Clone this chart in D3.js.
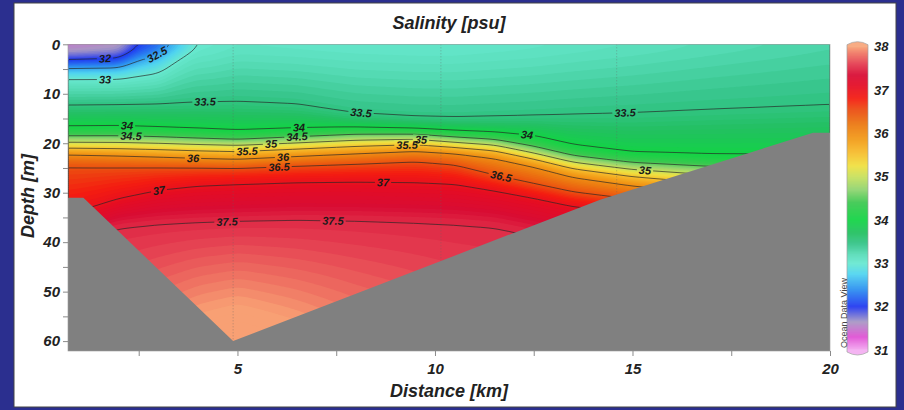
<!DOCTYPE html>
<html>
<head>
<meta charset="utf-8">
<script src="https://cdn.jsdelivr.net/npm/d3@7"></script>
<style>
body{margin:0;background:#2b2f8f;}
svg{display:block;}
text{font-family:"Liberation Sans",Arial,sans-serif;font-weight:bold;font-style:italic;fill:#222;}
.tick text{font-size:15px;}
.cbar text{font-size:13px;}
.clabel{font-size:11px;fill:#1a1a1a;}
.odv{font-size:9px;font-weight:normal;font-style:normal;fill:#444;}
</style>
</head>
<body>
<svg id="chart" width="904" height="410"></svg>
<script>
//data: depth [m] of each salinity isoline at each station [km]
var stationKm = [0.71, 2, 3, 4, 5, 6.5, 8, 9.5, 10.5, 11.5, 12.5, 13.5, 15, 17, 20];
var isoLevels = [32, 32.5, 33, 33.5, 34, 34.5, 35, 35.5, 36, 36.5, 37, 37.5];
var isoDepth = [
    [3.4, 3.1, -2.5, -6, -10, -10, -10, -10, -10, -10, -10, -10, -10, -10, -10],
    [4.8, 4.7, 2.0, -3.5, -8, -10, -10, -10, -10, -10, -10, -10, -10, -10, -10],
    [6.6, 6.6, 5.6, -0.2, -8, -10, -10, -10, -10, -10, -10, -10, -10, -10, -10],
    [12.4, 12.3, 12.2, 12.0, 11.9, 12.5, 14.7, 15.5, 15.6, 15.3, 15.0, 14.6, 14.2, 13.5, 12.6],
    [16.9, 16.8, 17.1, 17.4, 17.8, 17.4, 16.9, 17.1, 17.5, 18.0, 18.6, 20.7, 22.4, 22.8, 23.0],
    [18.7, 18.7, 18.9, 19.3, 19.6, 18.9, 18.4, 18.5, 19.0, 19.4, 21.0, 22.8, 24.0, 24.8, 25.0],
    [20.0, 20.0, 20.1, 20.2, 20.3, 19.9, 19.3, 19.0, 19.9, 20.4, 22.0, 23.8, 25.3, 26.4, 26.8],
    [20.7, 20.8, 21.0, 21.3, 21.4, 21.0, 20.5, 20.1, 20.6, 21.35, 23.1, 25.0, 26.6, 28.0, 28.5],
    [22.2, 22.5, 22.8, 23.1, 23.4, 22.6, 22.0, 21.5, 21.8, 22.6, 24.3, 26.6, 28.4, 30.0, 30.5],
    [24.2, 24.4, 24.5, 24.6, 24.7, 24.4, 24.0, 23.4, 24.2, 26.6, 28.4, 30.0, 31.5, 32.5, 33.0],
    [34.8, 31.3, 29.4, 28.4, 28.0, 27.6, 27.5, 27.7, 28.0, 29.2, 30.6, 32.3, 33.5, 35.0, 36.0],
    [39.5, 36.5, 35.9, 35.6, 35.4, 35.1, 35.2, 35.5, 35.8, 36.3, 37.9, 39.5, 41.0, 42.0, 43.0]
];
var surfaceSal = [31.4, 31.5, 32.15, 32.98, 33.08, 33.06, 33.04, 33.03, 33.03, 33.05, 33.07, 33.1, 33.14, 33.2, 33.28];
var bottomSal = [37.75, 37.9, 38.05, 38.2, 38.28, 38.15, 38.0, 37.88, 37.8, 37.75, 37.7, 37.7, 37.7, 37.7, 37.7];
var bottomDepth = 62;

//bathymetry
var bathyKm = [0.71, 1.1, 4.89, 14.18, 19.57, 20.0];
var bathyDepth = [31, 31, 60, 31.4, 17.9, 17.9];

//sample casts (dotted)
var castKm = [4.89, 10.15, 14.6];

//isoline labels
var labelKm = [1.65, 2.96, 1.65, 4.18, 8.15, 14.8, 2.2, 6.58, 12.35, 2.28, 6.5, 5.87, 9.67, 15.3, 5.24, 9.29, 3.85, 6.15, 6.03, 11.65, 2.99, 8.68, 4.76, 7.42];
var labelLevel = [32, 32.5, 33, 33.5, 33.5, 33.5, 34, 34, 34, 34.5, 34.5, 35, 35, 35, 35.5, 35.5, 36, 36, 36.5, 36.5, 37, 37, 37.5, 37.5];

//ticks
var xTicks = [5, 10, 15, 20];
var xMinor = [2.5, 7.5, 12.5, 17.5];
var yTicks = [0, 10, 20, 30, 40, 50, 60];
var yMinor = [5, 15, 25, 35, 45, 55];
var barTicks = [31, 32, 33, 34, 35, 36, 37, 38];

//palette
var colorStops = [31.0, 31.3, 31.65, 32.0, 32.4, 32.75, 33.0, 33.2, 33.45, 33.7, 34.0, 34.4, 34.7, 35.0, 35.25, 35.55, 35.85, 36.2, 36.55, 36.8, 37.1, 37.35, 37.6, 37.85, 38.0];
var colorHex = ['#f2a8f0', '#e050d4', '#a898c4', '#2038f0', '#2c90f0', '#50d4f0', '#68e8d0', '#58dcb8', '#34c488', '#22c060',
    '#12d444', '#3cc850', '#90d470', '#c8e05c', '#f0e040', '#f6bc2c', '#f29c18', '#ec7810', '#ec4a10', '#f41c10',
    '#e40c24', '#d80c34', '#e43c50', '#f07864', '#f8a074'];
//end data

var svg = d3.select('#chart');
var x = d3.scaleLinear().domain([0.71, 20.0]).range([68, 830]);
var y = d3.scaleLinear().domain([0, 62]).range([44.3, 351]);
var color = d3.scaleLinear().domain(colorStops).range(colorHex).clamp(true);

//white panel
svg.append('rect')
    .attr('x', 14).attr('y', 3).attr('width', 882).attr('height', 404)
    .attr('fill', '#fff').attr('stroke', '#444').attr('stroke-width', 1);

var defs = svg.append('defs');
var px0 = x.range()[0], px1 = x.range()[1], py0 = y.range()[0], py1 = y.range()[1];
defs.append('clipPath').attr('id', 'plotClip').append('rect')
    .attr('x', px0).attr('y', py0).attr('width', px1 - px0).attr('height', py1 - py0);
defs.append('clipPath').attr('id', 'lineClip').append('rect')
    .attr('x', px0 + 0.7).attr('y', py0 + 0.7).attr('width', px1 - px0 - 1.4).attr('height', py1 - py0 - 1.4);

//interpolate a station array at distance d
function atKm(arr, d){
    if(d <= stationKm[0]) return arr[0];
    for(var k = 1; k < stationKm.length; k++){
        if(d <= stationKm[k]){
            var t = (d - stationKm[k-1]) / (stationKm[k] - stationKm[k-1]);
            return arr[k-1] + t * (arr[k] - arr[k-1]);
        }
    }
    return arr[arr.length - 1];
}

function profileAt(d){
    var pts = [], lo = -Infinity;
    isoLevels.forEach(function(lv, li){
        var dep = atKm(isoDepth[li], d);
        if(dep <= 0){ lo = lv; }
        else { pts.push([dep, lv]); }
    });
    pts.sort(function(a, b){ return a[0] - b[0]; });
    var hi = pts.length ? pts[0][1] : 40;
    var s0 = Math.max(lo, Math.min(hi - 0.02, atKm(surfaceSal, d)));
    pts.unshift([0, s0]);
    var last = pts[pts.length - 1][1];
    pts.push([bottomDepth, Math.max(last + 0.05, atKm(bottomSal, d))]);
    return pts;
}

function evalProfile(pts, z){
    if(z <= pts[0][0]) return pts[0][1];
    for(var k = 1; k < pts.length; k++){
        if(z <= pts[k][0]){
            var t = (z - pts[k-1][0]) / (pts[k][0] - pts[k-1][0]);
            return pts[k-1][1] + t * (pts[k][1] - pts[k-1][1]);
        }
    }
    return pts[pts.length - 1][1];
}

//grid
var cell = 2;
var nx = Math.round((px1 - px0) / cell);
var ny = Math.ceil((py1 - py0) / cell);
var grid = new Array(nx * ny);
for(var i = 0; i < nx; i++){
    var prof = profileAt(x.invert(px0 + (i + 0.5) * cell));
    for(var j = 0; j < ny; j++){
        grid[j * nx + i] = evalProfile(prof, y.invert(py0 + (j + 0.5) * cell));
    }
}

function boxBlur(v, w, h, r){
    var tmp = new Array(w * h), out = new Array(w * h), n = 2 * r + 1;
    for(var j = 0; j < h; j++){
        for(var i = 0; i < w; i++){
            var s = 0;
            for(var k = -r; k <= r; k++){ s += v[j * w + Math.min(w - 1, Math.max(0, i + k))]; }
            tmp[j * w + i] = s / n;
        }
    }
    for(var j2 = 0; j2 < h; j2++){
        for(var i2 = 0; i2 < w; i2++){
            var s2 = 0;
            for(var k2 = -r; k2 <= r; k2++){ s2 += tmp[Math.min(h - 1, Math.max(0, j2 + k2)) * w + i2]; }
            out[j2 * w + i2] = s2 / n;
        }
    }
    return out;
}
grid = boxBlur(boxBlur(grid, nx, ny, 3), nx, ny, 3);

var gridPath = d3.geoPath(d3.geoIdentity().scale(cell).translate([px0, py0]));

//filled field
var step = 0.05;
var fillLevels = d3.range(31, 38.3, step);
var gField = svg.append('g').attr('clip-path', 'url(#plotClip)');
gField.selectAll('path')
    .data(d3.contours().size([nx, ny]).thresholds(fillLevels)(grid))
    .enter().append('path')
    .attr('d', gridPath)
    .attr('fill', function(d){ return color(d.value + step / 2); });

//casts
gField.selectAll('line.cast')
    .data(castKm)
    .enter().append('line')
    .attr('class', 'cast')
    .attr('x1', function(d){ return x(d); }).attr('x2', function(d){ return x(d); })
    .attr('y1', py0).attr('y2', py1)
    .attr('stroke', '#666').attr('stroke-opacity', 0.45)
    .attr('stroke-width', 1).attr('stroke-dasharray', '1,2');

//find depth (pixel y) where column crosses level
function crossY(col, level){
    col = Math.max(0, Math.min(nx - 1, col));
    for(var j = 0; j < ny - 1; j++){
        var a = grid[j * nx + col], b = grid[(j + 1) * nx + col];
        if(a < level && b >= level){
            return py0 + (j + 0.5 + (level - a) / (b - a)) * cell;
        }
    }
    return null;
}

var mask = defs.append('mask').attr('id', 'gapMask')
    .attr('maskUnits', 'userSpaceOnUse')
    .attr('x', 0).attr('y', 0).attr('width', 904).attr('height', 410);
mask.append('rect').attr('width', 904).attr('height', 410).attr('fill', '#fff');

//isolines
var gLines = svg.append('g').attr('mask', 'url(#gapMask)')
    .append('g').attr('clip-path', 'url(#lineClip)');
gLines.selectAll('path')
    .data(d3.contours().size([nx, ny]).thresholds(isoLevels)(grid))
    .enter().append('path')
    .attr('d', gridPath)
    .attr('fill', 'none')
    .attr('stroke', '#262626')
    .attr('stroke-opacity', 0.85)
    .attr('stroke-width', 0.8);

//isoline labels
var gLabels = svg.append('g').attr('clip-path', 'url(#plotClip)');
labelKm.forEach(function(km, k){
    var level = labelLevel[k];
    var col = Math.round((x(km) - px0) / cell - 0.5);
    var cy = crossY(col, level);
    if(cy === null) return;
    var cx = px0 + (col + 0.5) * cell;
    var off = 5;
    var yl = crossY(col - off, level), yr = crossY(col + off, level);
    var ang = 0;
    if(yl !== null && yr !== null) ang = Math.atan2(yr - yl, 2 * off * cell);
    else if(yr !== null) ang = Math.atan2(yr - cy, off * cell);
    else if(yl !== null) ang = Math.atan2(cy - yl, off * cell);
    var deg = ang * 180 / Math.PI;
    var t = gLabels.append('text')
        .attr('class', 'clabel')
        .attr('text-anchor', 'middle')
        .attr('dy', '0.35em')
        .attr('transform', 'translate(' + cx + ',' + cy + ') rotate(' + deg + ')')
        .text(String(level));
    var w = t.node().getComputedTextLength() + 4;
    mask.append('rect')
        .attr('x', -w / 2).attr('y', -5).attr('width', w).attr('height', 10)
        .attr('fill', '#000')
        .attr('transform', 'translate(' + cx + ',' + cy + ') rotate(' + deg + ')');
});

//bathymetry
var bathyPts = bathyKm.map(function(d, k){ return [x(d), y(bathyDepth[k])]; });
bathyPts.push([x(20.0) + 2, y(bathyDepth[bathyDepth.length - 1])]);
bathyPts.push([x(20.0) + 2, py1 + 2]);
bathyPts.push([px0 - 2, py1 + 2]);
bathyPts.unshift([px0 - 2, y(bathyDepth[0])]);
svg.append('path')
    .attr('clip-path', 'url(#plotClip)')
    .attr('d', d3.line()(bathyPts) + 'Z')
    .attr('fill', '#808080');

//plot frame
svg.append('rect')
    .attr('x', px0).attr('y', py0).attr('width', px1 - px0).attr('height', py1 - py0)
    .attr('fill', 'none').attr('stroke', '#9a9a9a').attr('stroke-width', 0.6);

//axes
function styleAxis(g){
    g.attr('font-size', null).attr('font-family', null);
    g.select('.domain').remove();
    g.selectAll('line').attr('stroke', '#8a8a8a');
}
svg.append('g').attr('transform', 'translate(0,' + py1 + ')')
    .call(d3.axisBottom(x).tickValues(xTicks).tickSize(5).tickPadding(7).tickFormat(d3.format('d')))
    .call(styleAxis);
svg.append('g').attr('transform', 'translate(0,' + py1 + ')')
    .call(d3.axisBottom(x).tickValues(xMinor).tickSize(5).tickFormat(''))
    .call(styleAxis);
svg.append('g').attr('transform', 'translate(' + px0 + ',0)')
    .call(d3.axisLeft(y).tickValues(yTicks).tickSize(5).tickPadding(3).tickFormat(d3.format('d')))
    .call(styleAxis);
svg.append('g').attr('transform', 'translate(' + px0 + ',0)')
    .call(d3.axisLeft(y).tickValues(yMinor).tickSize(5).tickFormat(''))
    .call(styleAxis);

//titles
svg.append('text').attr('x', 449).attr('y', 29).attr('text-anchor', 'middle')
    .attr('font-size', 18).text('Salinity [psu]');
svg.append('text').attr('x', 449).attr('y', 397).attr('text-anchor', 'middle')
    .attr('font-size', 18).text('Distance [km]');
svg.append('text').attr('transform', 'translate(34,196) rotate(-90)').attr('text-anchor', 'middle')
    .attr('font-size', 18).text('Depth [m]');

//colorbar
var cb = d3.scaleLinear().domain([31, 38]).range([350, 46.7]);
var cbX = 847, cbW = 21;
var gBar = svg.append('g').attr('class', 'cbar');
gBar.selectAll('rect')
    .data(d3.range(cb(38), cb(31), 1))
    .enter().append('rect')
    .attr('x', cbX).attr('y', function(d){ return d; })
    .attr('width', cbW).attr('height', 1.2)
    .attr('fill', function(d){ return color(cb.invert(d + 0.5)); });
var cm = cbX + cbW / 2;
gBar.append('path')
    .attr('d', 'M' + cbX + ',' + (cb(38) + 0.5) + 'L' + cbX + ',' + (cb(38) - 2) +
        'Q' + cm + ',' + (cb(38) - 8) + ' ' + (cbX + cbW) + ',' + (cb(38) - 2) +
        'L' + (cbX + cbW) + ',' + (cb(38) + 0.5) + 'Z')
    .attr('fill', '#f8ac84');
gBar.append('path')
    .attr('d', 'M' + cbX + ',' + (cb(31) - 0.5) + 'L' + cbX + ',' + (cb(31) + 2) +
        'Q' + cm + ',' + (cb(31) + 8) + ' ' + (cbX + cbW) + ',' + (cb(31) + 2) +
        'L' + (cbX + cbW) + ',' + (cb(31) - 0.5) + 'Z')
    .attr('fill', '#f4b4f2');
gBar.append('path')
    .attr('d', 'M' + cbX + ',' + (cb(31) + 2) + 'L' + cbX + ',' + (cb(38) - 2) +
        'Q' + cm + ',' + (cb(38) - 8) + ' ' + (cbX + cbW) + ',' + (cb(38) - 2) +
        'L' + (cbX + cbW) + ',' + (cb(31) + 2) +
        'Q' + cm + ',' + (cb(31) + 8) + ' ' + cbX + ',' + (cb(31) + 2) + 'Z')
    .attr('fill', 'none').attr('stroke', '#a0a0a0').attr('stroke-width', 0.7);
gBar.selectAll('text')
    .data(barTicks)
    .enter().append('text')
    .attr('x', cbX + cbW + 6)
    .attr('y', function(d){ return cb(d); })
    .attr('dy', '0.35em')
    .text(function(d){ return d; });

svg.append('text').attr('class', 'odv')
    .attr('transform', 'translate(' + (cbX - 0.5) + ',313) rotate(-90)')
    .attr('text-anchor', 'middle')
    .text('Ocean Data View');
</script>
</body>
</html>
